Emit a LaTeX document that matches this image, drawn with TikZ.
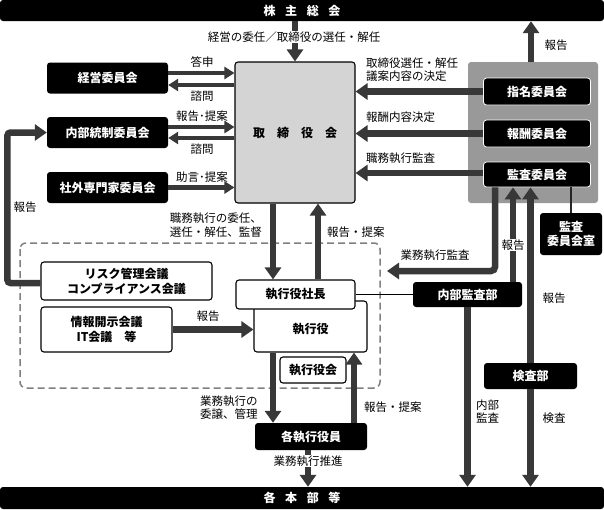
\documentclass[tikz,border=0pt]{standalone}
\usepackage{fontspec}
\setmainfont{Noto Sans CJK JP}
\usetikzlibrary{arrows.meta}
\colorlet{arrowgray}{black!78}
\colorlet{boardgray}{black!17}
\colorlet{committeegray}{black!40}

\begin{document}
\begin{tikzpicture}[
    x=1pt, y=-1pt,
    fat/.style={draw=arrowgray, line width=6.5pt, -{Triangle[length=12pt,width=16pt]}},
    slim/.style={draw=arrowgray, line width=4.5pt, -{Triangle[length=10pt,width=12pt]}},
    blackbox/.style={fill=black, text=white, rounded corners=3pt, inner sep=0pt,
        align=center, font=\bfseries\fontsize{12}{15}\selectfont},
    innerbox/.style={blackbox, draw=white, line width=0.8pt},
    whitebox/.style={draw=black, line width=1.1pt, fill=white, rounded corners=3pt,
        inner sep=0pt, align=center, font=\bfseries\fontsize{12}{15}\selectfont},
    lbl/.style={inner sep=1pt, align=left, font=\fontsize{11.5}{14}\selectfont},
    ]

\useasboundingbox (0,0) rectangle (604,509);

% executive area
\draw[black!50, line width=1.5pt, dash pattern=on 7pt off 4pt, rounded corners=6pt]
    (20,243) rectangle (380,388);

% top and bottom bars
\node[blackbox, minimum width=604, minimum height=21] (soukai) at (302,10.5)
    {株\hspace{.8em}主\hspace{.8em}総\hspace{.8em}会};
\node[blackbox, minimum width=604, minimum height=22] (honbu) at (302,498)
    {各\hspace{.8em}本\hspace{.8em}部\hspace{.8em}等};

% board
\node[draw=black, line width=1.1pt, fill=boardgray, rounded corners=3pt,
    minimum width=120, minimum height=141, font=\bfseries\fontsize{12}{15}\selectfont]
    (tori) at (295,132.5) {取　締　役　会};

% left committees
\node[blackbox, minimum width=121, minimum height=31] (keiei) at (107.5,78) {経営委員会};
\node[blackbox, minimum width=121, minimum height=31] (naibu) at (107.5,132.5) {内部統制委員会};
\node[blackbox, minimum width=121, minimum height=31] (shagai) at (107.5,187.5) {社外専門家委員会};

% right committees
\node[fill=committeegray, rounded corners=3pt, minimum width=130, minimum height=141]
    (iinkai) at (533,132.5) {};
\node[innerbox, minimum width=107, minimum height=27] (shimei) at (537,91.5) {指名委員会};
\node[innerbox, minimum width=107, minimum height=27] (houshu) at (537,133.5) {報酬委員会};
\node[innerbox, minimum width=107, minimum height=25] (kansa) at (537,174.5) {監査委員会};
\node[blackbox, minimum width=62, minimum height=42, font=\bfseries\fontsize{12}{14}\selectfont]
    (kansashitsu) at (571,234) {監査\\委員会室};

% executives
\node[whitebox, minimum width=171, minimum height=38] (risk) at (126.5,281)
    {リスク管理会議\\コンプライアンス会議};
\node[whitebox, minimum width=131, minimum height=45] (jouhou) at (106.5,329.5)
    {情報開示会議\\IT会議　等};
\node[whitebox, minimum width=113, minimum height=51, text depth=0pt] (shikkou) at (310.5,326.5)
    {\raisebox{-4pt}{執行役}};
\node[whitebox, minimum width=119, minimum height=29] (shachou) at (295.5,294.5) {執行役社長};
\node[whitebox, minimum width=66, minimum height=26] (yakuinkai) at (313,370) {執行役会};
\node[blackbox, minimum width=112, minimum height=27] (kakushikkou) at (311,436.5) {各執行役員};
\node[blackbox, minimum width=109, minimum height=25] (naibukansa) at (467.5,294.5) {内部監査部};
\node[blackbox, minimum width=93, minimum height=26] (kensa) at (530.5,376) {検査部};

% shareholders
\draw[fat] (soukai.south -| tori.north) -- (tori.north);
\node[lbl, fill=white] (l-keiei) at (294,37) {経営の委任／取締役の選任・解任};
\draw[fat] ([xshift=-2pt]iinkai.north) -- ([xshift=-2pt]iinkai.north |- soukai.south);
\node[lbl] (l-houkoku1) at (556,45) {報告};

% left committees <-> board
\draw[slim] ([yshift=5pt]keiei.east) -- ([yshift=5pt]keiei.east -| tori.west);
\draw[slim] ([yshift=-7pt]keiei.east -| tori.west) -- ([yshift=-7pt]keiei.east);
\node[lbl] (l-toushin) at (202,62) {答申};
\node[lbl] (l-shimon1) at (202,96) {諮問};
\draw[slim] ([yshift=5.5pt]naibu.east) -- ([yshift=5.5pt]naibu.east -| tori.west);
\draw[slim] ([yshift=-5.5pt]naibu.east -| tori.west) -- ([yshift=-5.5pt]naibu.east);
\node[lbl] (l-teian1) at (202,116) {報告･提案};
\node[lbl] (l-shimon2) at (202,149) {諮問};
\draw[slim] (shagai.east) -- (shagai.east -| tori.west);
\node[lbl] (l-jogen) at (202,177) {助言･提案};

% right committees -> board
\draw[fat] (shimei.west) -- (shimei.west -| tori.east);
\node[lbl, anchor=west, font=\fontsize{11.5}{13}\selectfont] (l-shimei) at (365,69.5)
    {取締役選任・解任\\議案内容の決定};
\draw[fat] (houshu.west) -- (houshu.west -| tori.east);
\node[lbl, anchor=west] (l-houshu) at (365,117) {報酬内容決定};
\draw[fat] ([yshift=1.5pt]kansa.west) -- ([yshift=1.5pt]kansa.west -| tori.east);
\node[lbl, anchor=west] (l-kansa) at (365,158) {職務執行監査};

% audit committee
\draw[black!85, line width=1.2pt] (kansashitsu.north) -- (kansashitsu.north |- kansa.south);
\coordinate (gyoumu-end) at (387,271);
\draw[fat, rounded corners=4pt] ([xshift=-42pt]kansa.south) |- (gyoumu-end);
\node[lbl] (l-gyoumu) at (435,255) {業務執行監査};
\draw[fat] ([xshift=45.5pt]naibukansa.north) -- ([xshift=45.5pt]naibukansa.north |- kansa.south);
\node[lbl, fill=white] (l-houkoku2) at (513,245) {報告};
\draw[fat] (kensa.north) -- (kensa.north |- kansa.south);
\node[lbl] (l-houkoku3) at (554,298) {報告};
\draw[fat] (kensa.south) -- (kensa.south |- honbu.north);
\node[lbl] (l-kensa) at (554,418) {検査};
\draw[fat] (naibukansa.south) -- (naibukansa.south |- honbu.north);
\node[lbl, anchor=west, font=\fontsize{11.5}{13}\selectfont] (l-naibu) at (475,411) {内部\\監査};
\draw[black, line width=1.2pt] (shachou.east) -- (naibukansa.west);

% board <-> president
\draw[fat] ([xshift=-22pt]tori.south) -- ([xshift=-22pt]tori.south |- shachou.north);
\draw[fat] ([xshift=23pt]tori.south |- shachou.north) -- ([xshift=23pt]tori.south);
\node[lbl, anchor=east, align=right, font=\fontsize{11.5}{14.5}\selectfont] (l-inin) at (263,225)
    {職務執行の委任、\\選任・解任、監督};
\node[lbl, anchor=west] (l-teian2) at (326,232) {報告・提案};

% councils
\draw[fat, rounded corners=3pt] ([yshift=-2pt]risk.west) -- ++(-33,0) |- (naibu.west);
\node[lbl] (l-houkoku4) at (25,207) {報告};
\draw[fat] (jouhou.east) -- (jouhou.east -| shikkou.west);
\node[lbl] (l-houkoku5) at (208,316) {報告};

% executives -> divisions
\draw[fat] ([xshift=-37.5pt]shikkou.south) -- ([xshift=-37.5pt]shikkou.south |- kakushikkou.north);
\node[lbl, anchor=west, font=\fontsize{11.5}{13}\selectfont] (l-jouyo) at (199,408)
    {業務執行の\\委譲、管理};
\draw[fat] ([xshift=43.5pt]shikkou.south |- kakushikkou.north) -- ([xshift=43.5pt]shikkou.south);
\node[lbl, anchor=west] (l-teian3) at (363,407) {報告・提案};
\draw[fat] ([xshift=-3pt]kakushikkou.south) -- ([xshift=-3pt]kakushikkou.south |- honbu.north);
\node[lbl, fill=white] (l-suishin) at (308,461) {業務執行推進};

\end{tikzpicture}
\end{document}
